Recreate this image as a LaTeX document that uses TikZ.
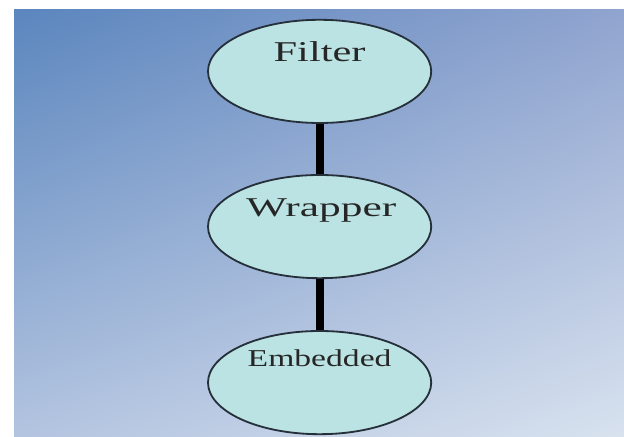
\documentclass[tikz,border=0pt]{standalone}
\usepackage{fontspec}
\setmainfont{Liberation Serif}
\usepackage{graphicx}
\usetikzlibrary{shapes.geometric,shadings,calc}
\definecolor{hblau}{HTML}{5B86BE}
\definecolor{hblaur}{HTML}{90A4CF}
\definecolor{hblaul}{HTML}{B3C4E0}
\definecolor{hell}{HTML}{D8E2EF}
\definecolor{tuerkis}{HTML}{BCE3E3}
\definecolor{rand}{HTML}{26303A}
\tikzset{
  blase/.style={ellipse,fill=tuerkis,draw=rand,line width=1.3pt,inner sep=0pt,
    minimum width=5.58cm,minimum height=2.58cm},
  stiel/.style={black,line width=5.6pt},
  schrift/.style={anchor=base,inner sep=0pt,text=black!85},
}

\begin{document}
\begin{tikzpicture}
  \useasboundingbox (0,0) rectangle (15.6,10.925);
  \fill[white] (0,0) rectangle (15.6,10.925);
  \shade[upper left=hblau,upper right=hblaur,lower left=hblaul,lower right=hell]
    (0.35,0) rectangle (15.6,10.675);
  \node[blase] (filter) at (7.99,9.14) {};
  \node[blase] (wrapper) at (7.99,5.26) {};
  \node[blase] (embedded) at (7.99,1.36) {};
  \draw[stiel] (filter) -- (wrapper);
  \draw[stiel] (wrapper) -- (embedded);
  \node[schrift,font=\fontsize{20.4}{22}\selectfont] (tfilter) at ($(filter.center)+(0,0.24)$) {\scalebox{1.48}[1]{Filter}};
  \node[schrift,font=\fontsize{19.3}{21}\selectfont] (twrapper) at ($(wrapper.center)+(0.04,0.24)$) {\scalebox{1.6}[1]{Wrapper}};
  \node[schrift,font=\fontsize{17.2}{19}\selectfont] (tembedded) at ($(embedded.center)+(0,0.41)$) {\scalebox{1.39}[1]{Embedded}};
\end{tikzpicture}
\end{document}
